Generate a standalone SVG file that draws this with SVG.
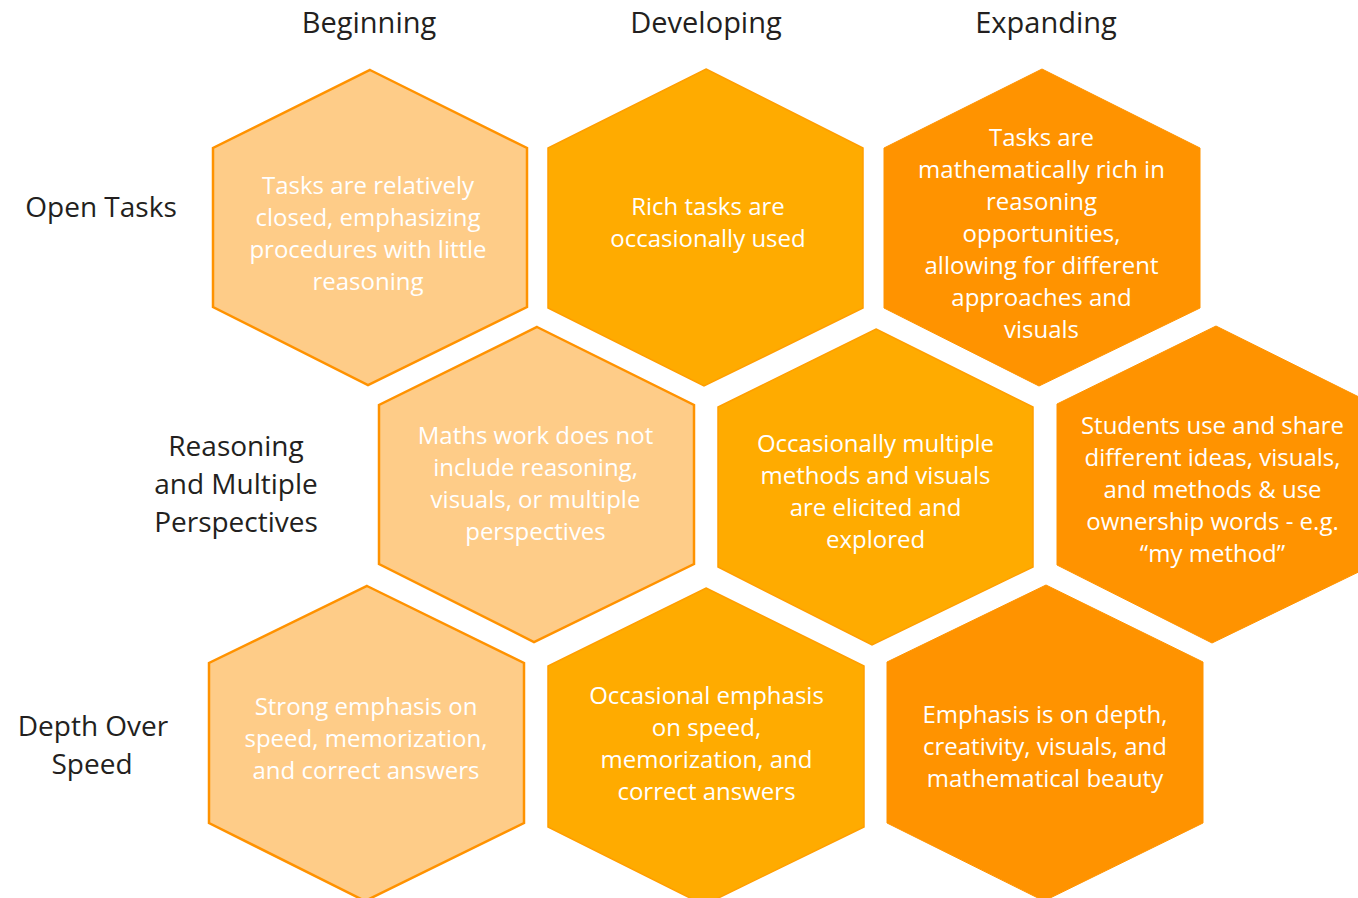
<svg xmlns="http://www.w3.org/2000/svg" width="1358" height="898" viewBox="0 0 1358 898">
<style>
.hdr{font-family:"Open Sans","Noto Sans",sans-serif;font-size:29px;fill:#231F20;text-anchor:middle}
.row{font-family:"Open Sans","Noto Sans",sans-serif;font-size:28px;fill:#231F20;text-anchor:middle}
.t{font-family:"Open Sans","Noto Sans",sans-serif;font-size:24px;fill:#FFFFFF;text-anchor:middle}
.light{fill:#FECC88;stroke:#FF9200;stroke-width:2.5}
.mid{fill:#FFAB00;stroke:#FF9E00;stroke-width:1.5}
.dark{fill:#FF9300;stroke:#FF9300;stroke-width:1}
</style>
<rect width="1358" height="898" fill="#FFFFFF"/>
<g id="headers">
<text class="hdr" x="369" y="33">Beginning</text>
<text class="hdr" x="706" y="33">Developing</text>
<text class="hdr" x="1046" y="33">Expanding</text>
</g>
<g id="rowlabels">
<text class="row" x="101" y="217">Open Tasks</text>
<text class="row" x="236" y="456">Reasoning</text>
<text class="row" x="236" y="494">and Multiple</text>
<text class="row" x="236" y="532">Perspectives</text>
<text class="row" x="93" y="736">Depth Over</text>
<text class="row" x="92" y="774">Speed</text>
</g>
<g id="connectors"></g>
<g id="hex-open-beginning">
<polygon class="light" points="370,70 527,148 527,307 368,385 213,307 213,148"/>
<text class="t" x="368"><tspan x="368" y="193.5">Tasks are relatively</tspan><tspan x="368" y="225.5">closed, emphasizing</tspan><tspan x="368" y="257.5">procedures with little</tspan><tspan x="368" y="289.5">reasoning</tspan></text>
</g>
<g id="hex-open-developing">
<polygon class="mid" points="706,69 863,148 863,308 704,386 548,308 548,148"/>
<text class="t"><tspan x="708" y="215">Rich tasks are</tspan><tspan x="708" y="247">occasionally used</tspan></text>
</g>
<g id="hex-open-expanding">
<polygon class="dark" points="1042,69 1200,148 1200,308 1039,386 884,308 884,148"/>
<text class="t"><tspan x="1041.5" y="146">Tasks are</tspan><tspan x="1041.5" y="178">mathematically rich in</tspan><tspan x="1041.5" y="210">reasoning</tspan><tspan x="1041.5" y="242">opportunities,</tspan><tspan x="1041.5" y="274">allowing for different</tspan><tspan x="1041.5" y="306">approaches and</tspan><tspan x="1041.5" y="338">visuals</tspan></text>
</g>
<g id="hex-reasoning-beginning">
<polygon class="light" points="537,327 694,405 694,564 534,642 379,564 379,405"/>
<text class="t"><tspan x="535.5" y="444">Maths work does not</tspan><tspan x="535.5" y="476">include reasoning,</tspan><tspan x="535.5" y="508">visuals, or multiple</tspan><tspan x="535.5" y="540">perspectives</tspan></text>
</g>
<g id="hex-reasoning-developing">
<polygon class="mid" points="876,329 1033,407 1033,567 872,645 718,567 718,407"/>
<text class="t"><tspan x="875.5" y="452">Occasionally multiple</tspan><tspan x="875.5" y="484">methods and visuals</tspan><tspan x="875.5" y="516">are elicited and</tspan><tspan x="875.5" y="548">explored</tspan></text>
</g>
<g id="hex-reasoning-expanding">
<polygon class="dark" points="1216,326 1373,404 1373,565 1212,643 1057,565 1057,404"/>
<text class="t"><tspan x="1212.5" y="434">Students use and share</tspan><tspan x="1212.5" y="466">different ideas, visuals,</tspan><tspan x="1212.5" y="498">and methods &amp; use</tspan><tspan x="1212.5" y="530">ownership words - e.g.</tspan><tspan x="1212.5" y="562">“my method”</tspan></text>
</g>
<g id="hex-depth-beginning">
<polygon class="light" points="367,586 524,663 524,823 365,901 209,823 209,663"/>
<text class="t"><tspan x="366" y="715">Strong emphasis on</tspan><tspan x="366" y="747">speed, memorization,</tspan><tspan x="366" y="779">and correct answers</tspan></text>
</g>
<g id="hex-depth-developing">
<polygon class="mid" points="706,588 864,666 864,827 704,905 548,827 548,666"/>
<text class="t"><tspan x="706.5" y="704">Occasional emphasis</tspan><tspan x="706.5" y="736">on speed,</tspan><tspan x="706.5" y="768">memorization, and</tspan><tspan x="706.5" y="800">correct answers</tspan></text>
</g>
<g id="hex-depth-expanding">
<polygon class="dark" points="1046,585 1203,662 1203,823 1044,901 887,823 887,662"/>
<text class="t"><tspan x="1045" y="723">Emphasis is on depth,</tspan><tspan x="1045" y="755">creativity, visuals, and</tspan><tspan x="1045" y="787">mathematical beauty</tspan></text>
</g>
</svg>
